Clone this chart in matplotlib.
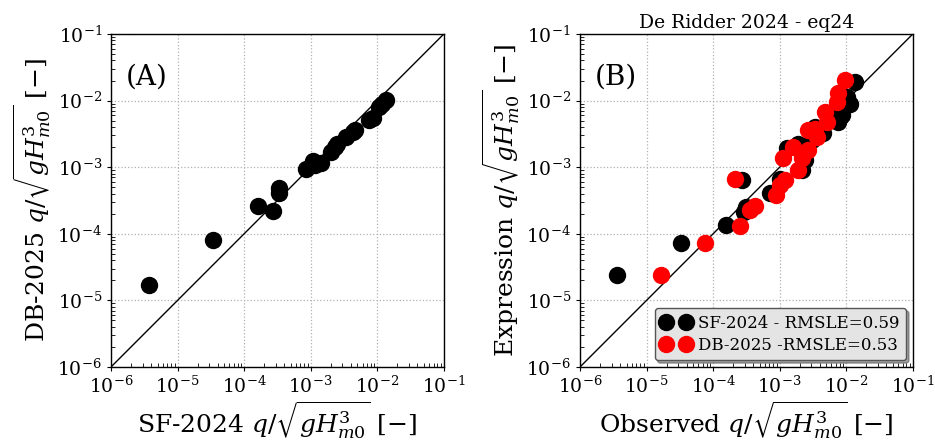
import matplotlib
matplotlib.use("Agg")
import matplotlib.pyplot as plt
import numpy as np

plt.rcParams["font.family"] = ["DejaVu Serif"]
plt.rcParams["mathtext.fontset"] = "dejavuserif"

# Panel (A): SF-2024 vs DB-2025 dimensionless overtopping
a_sf = [3.72e-6, 3.43e-5, 1.60e-4, 2.72e-4, 3.35e-4, 3.31e-4, 8.61e-4, 1.08e-3,
        1.15e-3, 1.41e-3, 2.00e-3, 2.29e-3, 2.48e-3, 3.43e-3, 4.32e-3, 4.57e-3,
        7.50e-3, 8.61e-3, 1.08e-2, 1.19e-2, 1.33e-2]
a_db = [1.70e-5, 8.04e-5, 2.60e-4, 2.19e-4, 4.79e-4, 4.03e-4, 9.23e-4, 1.24e-3,
        1.07e-3, 1.14e-3, 1.70e-3, 2.02e-3, 2.21e-3, 2.85e-3, 3.39e-3, 3.59e-3,
        5.19e-3, 5.56e-3, 8.04e-3, 9.02e-3, 1.01e-2]

# Panel (B): observed vs expression (De Ridder 2024, eq. 24)
sf_obs = [3.55e-6, 3.31e-5, 1.57e-4, 2.72e-4, 2.95e-4, 3.16e-4, 7.08e-4, 1.00e-3,
          1.29e-3, 1.86e-3, 2.14e-3, 2.40e-3, 3.02e-3, 3.43e-3, 4.47e-3, 5.75e-3,
          7.59e-3, 8.04e-3, 8.61e-3, 1.02e-2, 1.12e-2, 1.36e-2, 7.67e-3]
sf_expr = [2.40e-5, 7.16e-5, 1.35e-4, 6.38e-4, 2.14e-4, 2.51e-4, 4.07e-4, 6.76e-4,
           1.97e-3, 2.24e-3, 9.12e-4, 1.29e-3, 2.57e-3, 4.03e-3, 3.24e-3, 6.03e-3,
           4.79e-3, 5.75e-3, 6.03e-3, 1.14e-2, 9.02e-3, 1.91e-2, 8.04e-3]
db_obs = [1.62e-5, 7.67e-5, 2.16e-4, 2.57e-4, 3.55e-4, 4.27e-4, 8.91e-4, 1.00e-3,
          1.20e-3, 1.12e-3, 1.58e-3, 1.91e-3, 2.14e-3, 2.69e-3, 2.69e-3, 3.39e-3,
          3.59e-3, 4.79e-3, 5.07e-3, 7.16e-3, 7.59e-3, 9.53e-3]
db_expr = [2.40e-5, 7.33e-5, 6.76e-4, 1.30e-4, 2.29e-4, 2.57e-4, 3.80e-4, 5.37e-4,
           6.46e-4, 1.35e-3, 2.04e-3, 9.12e-4, 1.35e-3, 1.82e-3, 3.63e-3, 3.80e-3,
           2.88e-3, 6.76e-3, 4.79e-3, 9.62e-3, 1.29e-2, 2.04e-2]

lims = (1e-6, 1e-1)
decades = [1e-6, 1e-5, 1e-4, 1e-3, 1e-2, 1e-1]
qlabel = r"$q/\sqrt{gH_{m0}^3}$"

fig = plt.figure(figsize=(9.35, 4.43), dpi=100)
axA = fig.add_axes([0.1187, 0.1716, 0.356, 0.7517])
axB = fig.add_axes([0.6203, 0.1716, 0.356, 0.7517])


def style(ax):
    ax.set_xscale("log")
    ax.set_yscale("log")
    ax.set_xlim(*lims)
    ax.set_ylim(*lims)
    ax.set_xticks(decades)
    ax.set_yticks(decades)
    ax.plot(lims, lims, color="black", lw=1, zorder=2)
    ax.grid(True, which="major", color="#b0b0b0", linestyle=":", linewidth=0.9)
    ax.tick_params(which="major", direction="out", length=3, labelsize=13.5)
    ax.tick_params(which="minor", direction="in", length=3)
    for s in ax.spines.values():
        s.set_linewidth(1.0)


style(axA)
axA.plot(a_sf, a_db, "o", color="black", ms=11.5, zorder=3)
axA.text(0.045, 0.87, "(A)", transform=axA.transAxes, fontsize=20, va="center")
axA.set_xlabel("SF-2024 " + qlabel + r" $[-]$", fontsize=18, labelpad=2)
axA.set_ylabel("DB-2025 " + qlabel + r" $[-]$", fontsize=18, labelpad=2)

style(axB)
axB.plot(sf_obs, sf_expr, "o", color="black", ms=11.5, zorder=3,
         label="SF-2024 - RMSLE=0.59")
axB.plot(db_obs, db_expr, "o", color="red", ms=11.5, zorder=4,
         label="DB-2025 -RMSLE=0.53")
axB.text(0.045, 0.87, "(B)", transform=axB.transAxes, fontsize=20, va="center")
axB.set_title("De Ridder 2024 - eq24", fontsize=13.5, pad=4)
axB.set_xlabel("Observed " + qlabel + r" $[-]$", fontsize=18, labelpad=2)
axB.set_ylabel("Expression " + qlabel + r" $[-]$", fontsize=18, labelpad=2)
leg = axB.legend(loc="lower right", numpoints=2, fontsize=12, shadow=True,
                 fancybox=True, framealpha=1, facecolor="#e4e4e4",
                 edgecolor="#555555", borderaxespad=0.4, handletextpad=0.4,
                 labelspacing=0.3, handlelength=1.8)
leg.set_zorder(10)

fig.savefig("out.png", dpi=100)
